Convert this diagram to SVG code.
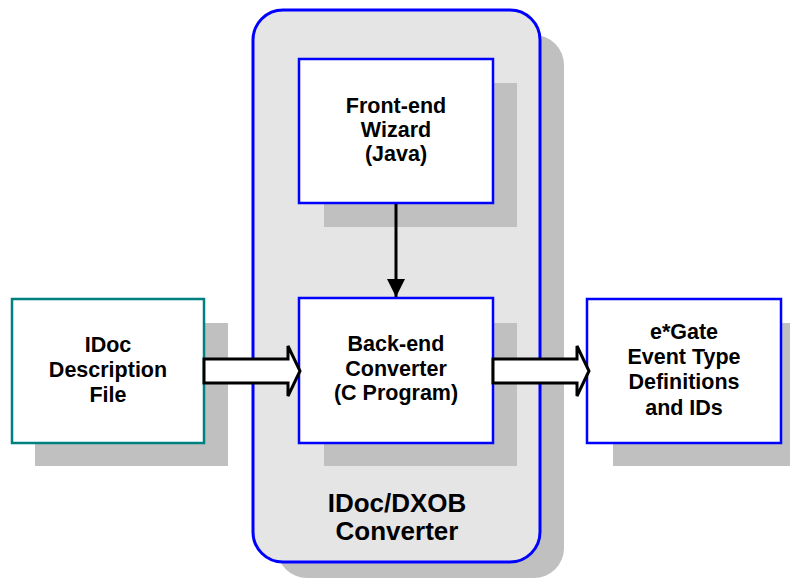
<svg xmlns="http://www.w3.org/2000/svg" width="790" height="581" viewBox="0 0 790 581">
<style>
.sh{fill:#C0C0C0}
.box{fill:#FFFFFF;stroke:#0000FF;stroke-width:2.5}
.t{font-family:"Liberation Sans",Arial,sans-serif;font-weight:bold;font-size:21.5px;fill:#000;text-anchor:middle}
.big{font-size:26px}
.blk{fill:#FFFFFF;stroke:#000;stroke-width:3;stroke-linejoin:miter}
</style>
<defs>
<marker id="ah" markerWidth="20" markerHeight="18" refX="18" refY="9" orient="auto" markerUnits="userSpaceOnUse">
<path d="M0,0 L18,9 L0,18 Z" fill="#000"/>
</marker>
</defs>
<rect width="790" height="581" fill="#FFFFFF"/>
<g id="container">
<rect class="sh" x="277" y="35" width="287" height="543" rx="30"/>
<rect x="253" y="10" width="287" height="552" rx="30" fill="#E5E5E5" stroke="#0000FF" stroke-width="3"/>
<text class="t big" x="397" y="512">IDoc/DXOB</text>
<text class="t big" x="397" y="540">Converter</text>
</g>
<g id="frontend">
<rect class="sh" x="324" y="83" width="193" height="144"/>
<rect class="box" x="299" y="59" width="194" height="144"/>
<text class="t" x="396" y="113">Front-end</text>
<text class="t" x="396" y="137">Wizard</text>
<text class="t" x="396" y="161">(Java)</text>
</g>
<g id="backend">
<rect class="sh" x="324" y="323" width="193" height="143"/>
<rect class="box" x="299" y="298" width="194" height="145"/>
<text class="t" x="396" y="351">Back-end</text>
<text class="t" x="396" y="376">Converter</text>
<text class="t" x="396" y="400">(C Program)</text>
</g>
<g id="idoc">
<rect class="sh" x="35" y="323" width="193" height="143"/>
<rect x="12" y="299" width="192" height="144" fill="#FFFFFF" stroke="#008080" stroke-width="2.5"/>
<text class="t" x="108" y="352">IDoc</text>
<text class="t" x="108" y="377">Description</text>
<text class="t" x="108" y="402">File</text>
</g>
<g id="egate">
<rect class="sh" x="613" y="323" width="177" height="143"/>
<rect class="box" x="587" y="299" width="194" height="144"/>
<text class="t" x="684" y="339">e*Gate</text>
<text class="t" x="684" y="364">Event Type</text>
<text class="t" x="684" y="389">Definitions</text>
<text class="t" x="684" y="415">and IDs</text>
</g>
<g id="connectors">
<line x1="396" y1="204" x2="396" y2="297" stroke="#000" stroke-width="3" marker-end="url(#ah)"/>
<path class="blk" d="M204,359 L288,359 L288,346 L300,371 L288,396 L288,383 L204,383 Z"/>
<path class="blk" d="M493,359 L577,359 L577,346 L589,371 L577,396 L577,383 L493,383 Z"/>
</g>
</svg>
